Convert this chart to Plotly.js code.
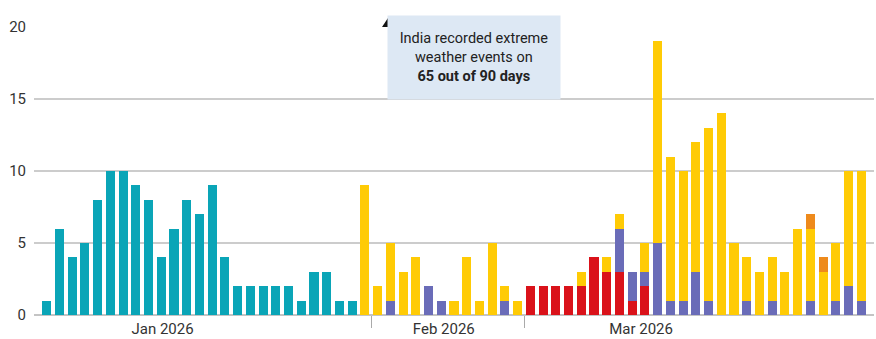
<!DOCTYPE html>
<html>
<head>
<meta charset="utf-8">
<script src="https://cdn.plot.ly/plotly-3.0.1.min.js"></script>
<style>html,body{margin:0;padding:0;background:#fff;}#chart{width:876px;height:339px;}</style>
</head>
<body>
<div id="chart"></div>
<script>
// Bars = days on which extreme weather was recorded (65 of 90 days)
const monthLabels = ["Jan 2026", "Feb 2026", "Mar 2026"];
const barsPerMonth = [26, 12, 27];

// Event counts per recorded day, by category (stack order: bottom -> top)
const coldWave = [1,6,4,5,8,10,10,9,8,4,6,8,7,9,4,2,2,2,2,2,1,3,3,1,1,0,
  0,0,0,0,0,0,0,0,0,0,0,0,
  0,0,0,0,0,0,0,0,0,0,0,0,0,0,0,0,0,0,0,0,0,0,0,0,0,0,0];
const heatWave = [0,0,0,0,0,0,0,0,0,0,0,0,0,0,0,0,0,0,0,0,0,0,0,0,0,0,
  0,0,0,0,0,0,0,0,0,0,0,0,
  2,2,2,2,2,4,3,3,1,2,0,0,0,0,0,0,0,0,0,0,0,0,0,0,0,0,0];
const heavyRain = [0,0,0,0,0,0,0,0,0,0,0,0,0,0,0,0,0,0,0,0,0,0,0,0,0,0,
  0,1,0,0,2,1,0,0,0,0,1,0,
  0,0,0,0,0,0,0,3,2,1,5,1,1,3,1,0,0,1,0,1,0,0,1,0,1,2,1];
const thunderstorm = [0,0,0,0,0,0,0,0,0,0,0,0,0,0,0,0,0,0,0,0,0,0,0,0,0,9,
  2,4,3,4,0,0,1,4,1,5,1,1,
  0,0,0,0,1,0,1,1,0,2,14,10,9,9,12,14,5,3,3,3,3,6,5,3,4,8,9];
const hailstorm = [0,0,0,0,0,0,0,0,0,0,0,0,0,0,0,0,0,0,0,0,0,0,0,0,0,0,
  0,0,0,0,0,0,0,0,0,0,0,0,
  0,0,0,0,0,0,0,0,0,0,0,0,0,0,0,0,0,0,0,0,0,0,1,1,0,0,0];

const yTicks = [0, 5, 10, 15, 20];

const barIndex = coldWave.map((_, i) => i);
// month boundaries derived from the bar counts
const boundaries = [];
let acc = 0;
for (let m = 0; m < barsPerMonth.length - 1; m++) { acc += barsPerMonth[m]; boundaries.push(acc - 0.5); }
const labelPos = [9.1, 31.2, 46.7];

const series = [
  {name: "Cold wave", y: coldWave, color: "#0aa5b7"},
  {name: "Heat wave", y: heatWave, color: "#da121a"},
  {name: "Heavy rain", y: heavyRain, color: "#6a6cb8"},
  {name: "Thunderstorm & lightning", y: thunderstorm, color: "#ffcb05"},
  {name: "Hailstorm", y: hailstorm, color: "#ee8a1c"}
];

const traces = series.map(s => ({
  type: "bar", x: barIndex, y: s.y, name: s.name,
  marker: {color: s.color, line: {width: 0}},
  hoverinfo: "skip", showlegend: false
}));
// invisible trace to activate the label axis
traces.push({type: "scatter", x: [0], y: [0], xaxis: "x2", mode: "markers",
  marker: {opacity: 0}, hoverinfo: "skip", showlegend: false});

const font = "Roboto, 'Liberation Sans', sans-serif";
const layout = {
  width: 876, height: 339,
  margin: {l: 34, r: 2, t: 27, b: 24},
  paper_bgcolor: "#ffffff", plot_bgcolor: "#ffffff",
  barmode: "stack", bargap: 0.28,
  showlegend: false,
  font: {family: font, size: 15, color: "#333333"},
  xaxis: {
    range: [-1, 65], showgrid: false, zeroline: false,
    tickmode: "array", tickvals: boundaries, ticktext: boundaries.map(() => ""),
    ticks: "outside", ticklen: 12, tickwidth: 1, tickcolor: "#aaaaaa",
    showticklabels: false, showline: false, fixedrange: true
  },
  xaxis2: {
    overlaying: "x", anchor: "y", side: "bottom", range: [-1, 65],
    showgrid: false, zeroline: false, showline: false,
    tickmode: "array", tickvals: labelPos, ticktext: monthLabels,
    ticks: "", ticklabelstandoff: 3,
    tickfont: {family: font, size: 15, color: "#333333"}
  },
  yaxis: {
    range: [0, 20], tickmode: "array", tickvals: yTicks,
    showgrid: true, gridcolor: "#cccccc", gridwidth: 1.5,
    zeroline: true, zerolinecolor: "#c4c4c4", zerolinewidth: 1.5,
    ticks: "", ticklabelstandoff: 7,
    tickfont: {family: font, size: 15, color: "#333333"},
    showline: false, fixedrange: true
  },
  annotations: [{
    xref: "paper", yref: "paper", x: 0.524, y: 0.894,
    xanchor: "center", yanchor: "middle",
    text: "India recorded extreme<br>weather events on<br><b>65 out of 90 days</b>",
    showarrow: false, align: "center",
    bgcolor: "#dde8f4", width: 170, height: 81, borderpad: 1,
    font: {family: font, size: 14.5, color: "#222222"}
  }],
  shapes: [{
    type: "path", xref: "paper", yref: "paper",
    path: "M 0.4143 1.0 L 0.4214 1.0 L 0.4214 1.031 Z",
    fillcolor: "#111111", line: {width: 0}
  }]
};

Plotly.newPlot("chart", traces, layout, {staticPlot: true, displayModeBar: false});
</script>
</body>
</html>
